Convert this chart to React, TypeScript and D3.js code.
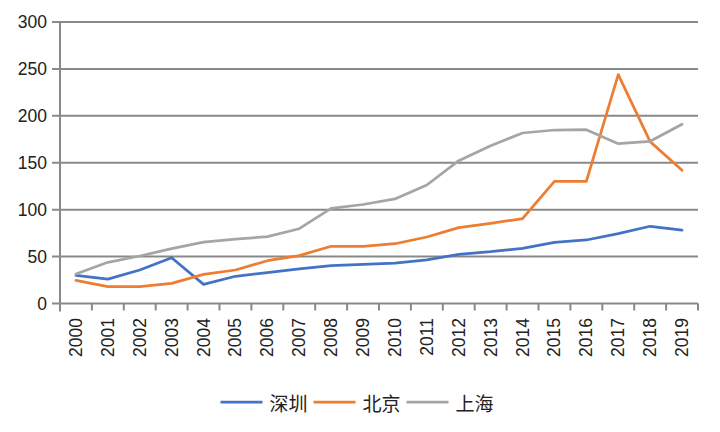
import React from "react";
import * as d3 from "d3";

const years = ["2000","2001","2002","2003","2004","2005","2006","2007","2008","2009","2010","2011","2012","2013","2014","2015","2016","2017","2018","2019"];
const shenzhen = [30,26,35.7,48.8,20.4,29,32.8,36.8,40.3,41.8,43,46.4,52.4,55.2,58.8,65.2,67.7,74.4,82.3,78.3];
const beijing = [24.7,17.9,17.9,21.5,31.1,35.7,45.6,51,61,61,63.7,70.9,80.8,85.5,90.4,130.2,130.2,243.9,172.5,142];
const shanghai = [31.4,43.9,50.6,58.4,65.5,68.7,71.2,79.7,101.4,105.5,111.4,126.3,152.2,168.2,181.7,184.9,185.2,170.3,172.9,191];
const yTicks = [0,50,100,150,200,250,300];
const seriesNames = ["深圳","北京","上海"];
const seriesColors = ["#4472C4","#ED7D31","#A5A5A5"];

export default function App() {
  const W = 720, H = 432;
  const left = 60, right = 698, top = 22, bottom = 303.5;
  const x = d3.scaleBand<string>().domain(years).range([left, right]).padding(0);
  const y = d3.scaleLinear().domain([0, 300]).range([bottom, top]);
  const cx = (yr: string) => (x(yr) as number) + x.bandwidth() / 2;
  const line = d3.line<number>().x((_, i) => cx(years[i])).y((d) => y(d));
  const data = [shenzhen, beijing, shanghai];
  const grid = "#898989";
  const font = "'Liberation Sans', Arial, sans-serif";
  const cjk = "'Noto Sans CJK SC', sans-serif";

  // legend layout
  const lineLen = 42, gapT = 7, textW = 38, gapI = 6;
  const itemW = lineLen + gapT + textW;
  const totalW = itemW * 3 + gapI * 2;
  const lx0 = 360 - totalW / 2 - 3;
  const ly = 402;

  return (
    <svg width={W} height={H} style={{ position: "absolute", left: 0, top: 0 }}>
      <rect width={W} height={H} fill="#fff" />
      {yTicks.map((t) => (
        <g key={t}>
          <line x1={left - 8} x2={right} y1={y(t)} y2={y(t)} stroke={grid} strokeWidth={2} />
          <text x={left - 13} y={y(t)} textAnchor="end" dominantBaseline="central" fontSize={17.5} fontFamily={font} fill="#222">{t}</text>
        </g>
      ))}
      <line x1={left} x2={left} y1={top} y2={bottom + 8} stroke={grid} strokeWidth={2} />
      {years.map((yr) => (
        <line key={"t" + yr} x1={(x(yr) as number) + x.bandwidth()} x2={(x(yr) as number) + x.bandwidth()} y1={bottom} y2={bottom + 7} stroke={grid} strokeWidth={2} />
      ))}
      {years.map((yr) => (
        <text key={"l" + yr} transform={`translate(${cx(yr)},${318}) rotate(-90)`} textAnchor="end" dominantBaseline="central" fontSize={17.5} fontFamily={font} fill="#222">{yr}</text>
      ))}
      {data.map((s, i) => (
        <path key={i} d={line(s) || ""} fill="none" stroke={seriesColors[i]} strokeWidth={2.75} strokeLinejoin="round" strokeLinecap="round" />
      ))}
      {seriesNames.map((n, i) => {
        const x0 = lx0 + i * (itemW + gapI);
        return (
          <g key={n}>
            <line x1={x0} x2={x0 + lineLen} y1={ly} y2={ly} stroke={seriesColors[i]} strokeWidth={2.75} />
            <text x={x0 + lineLen + gapT} y={ly} dominantBaseline="central" fontSize={19} fontFamily={cjk} fill="#222">{n}</text>
          </g>
        );
      })}
    </svg>
  );
}
